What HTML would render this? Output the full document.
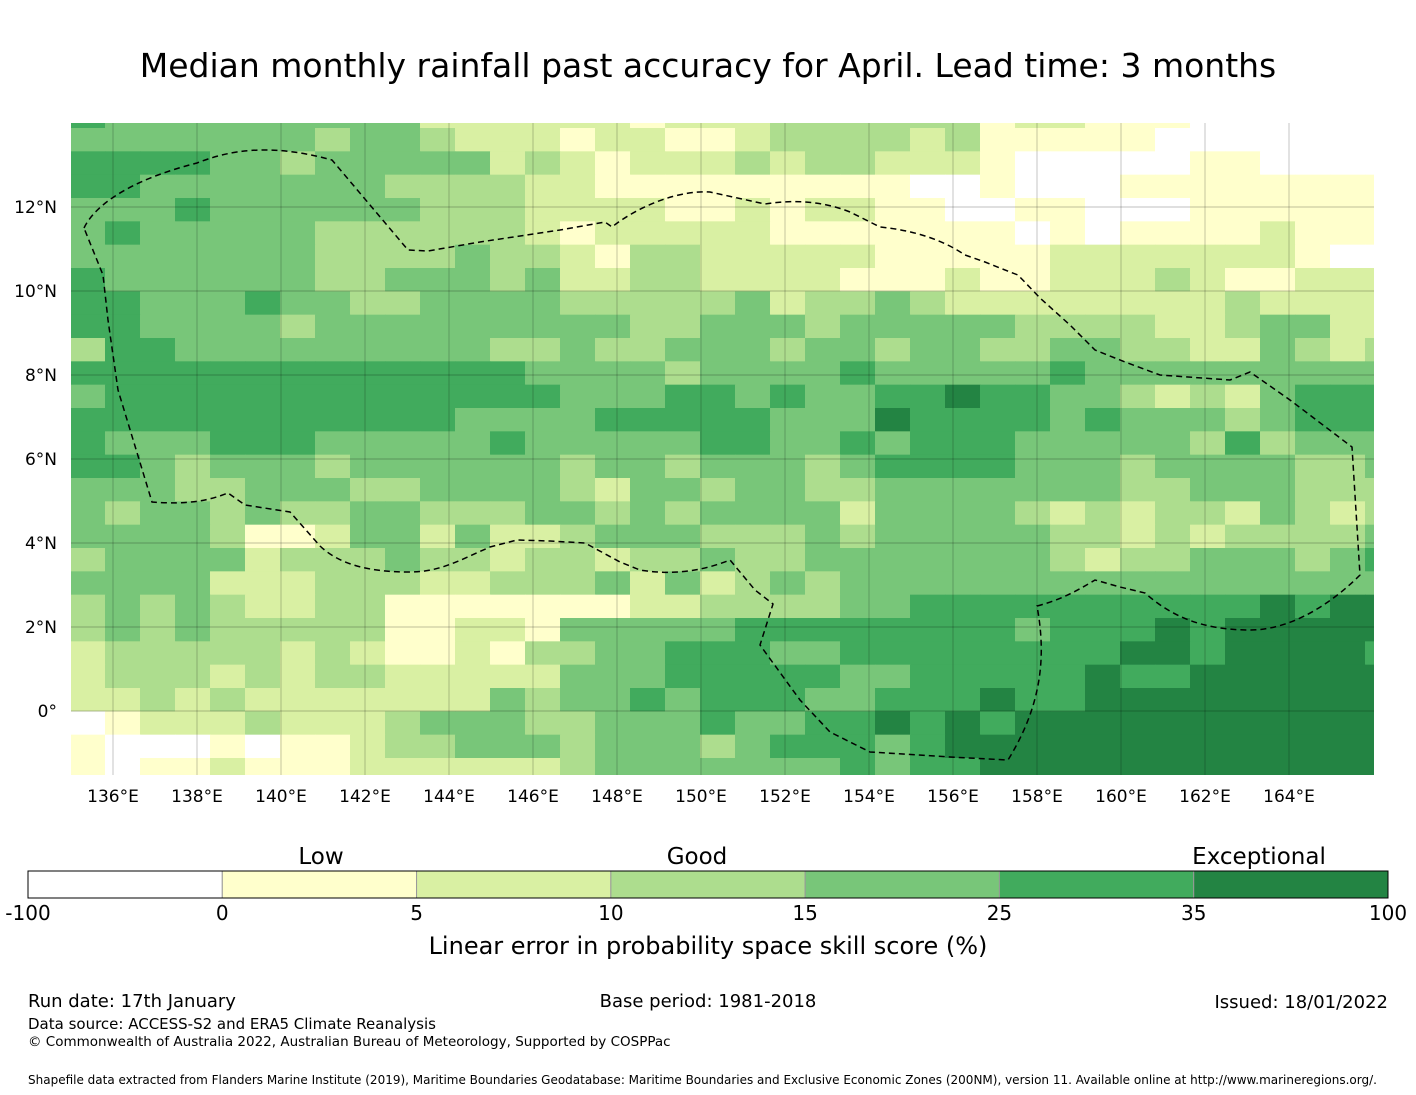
<!DOCTYPE html>
<html><head><meta charset="utf-8">
<style>
html,body{margin:0;padding:0;background:#fff;}
body{width:1416px;height:1095px;overflow:hidden;font-family:"Liberation Sans",sans-serif;}
svg{display:block;}
text{font-family:"DejaVu Sans","Liberation Sans",sans-serif;fill:#000;}
</style></head>
<body>
<svg id="chart" width="1416" height="1095" viewBox="0 0 1416 1095">
  <text x="708" y="77" text-anchor="middle" font-size="33">Median monthly rainfall past accuracy for April. Lead time: 3 months</text>
  <defs><clipPath id="mapclip"><rect x="71" y="123" width="1303" height="652"/></clipPath></defs>
  <g id="cells" clip-path="url(#mapclip)"></g>
  <g id="grid" clip-path="url(#mapclip)"></g>
  <path id="eez" clip-path="url(#mapclip)" fill="none" stroke="#000" stroke-width="1.5" stroke-dasharray="6,4"
    d="M84,228 C95,205 130,180 197,163 C230,150 270,143 332,160 L370,205 L408,250 L428,251 L480,242 L560,230 L605,222 L612,227 C640,205 680,190 710,192 L765,204 C790,200 820,200 850,212 L880,227 C910,230 940,238 965,255 L985,262 L1010,272 L1018,275 L1040,298 L1070,325 L1095,350 L1125,362 L1160,375 L1230,380 L1250,372 L1290,400 L1352,447 L1360,575 C1330,605 1290,630 1250,630 C1200,630 1170,615 1145,593 L1120,587 L1095,580 C1075,592 1060,600 1037,606 C1045,650 1045,700 1008,760 L950,757 L870,752 L830,732 L800,700 L760,645 L773,604 L755,590 L730,560 C700,572 670,575 640,570 L620,562 L585,543 L550,541 L517,540 L490,547 C460,560 440,572 410,572 C370,572 340,565 320,546 L290,512 L245,505 L228,493 C210,500 190,505 152,502 L118,390 L108,320 L103,275 Z"/>
  <g id="xticks"></g>
  <g id="yticks"></g>
  <g id="colorbar"></g>
  <text x="321" y="864" text-anchor="middle" font-size="23">Low</text>
  <text x="697" y="864" text-anchor="middle" font-size="23">Good</text>
  <text x="1259" y="864" text-anchor="middle" font-size="23">Exceptional</text>
  <text x="708" y="954" text-anchor="middle" font-size="24">Linear error in probability space skill score (%)</text>
  <text x="28" y="1007" font-size="18">Run date: 17th January</text>
  <text x="708" y="1007" text-anchor="middle" font-size="18">Base period: 1981-2018</text>
  <text x="1388" y="1008" text-anchor="end" font-size="18">Issued: 18/01/2022</text>
  <text x="28" y="1029" font-size="15">Data source: ACCESS-S2 and ERA5 Climate Reanalysis</text>
  <text x="28" y="1046" font-size="13.5">© Commonwealth of Australia 2022, Australian Bureau of Meteorology, Supported by COSPPac</text>
  <text x="28" y="1084" font-size="12">Shapefile data extracted from Flanders Marine Institute (2019), Maritime Boundaries Geodatabase: Maritime Boundaries and Exclusive Economic Zones (200NM), version 11. Available online at http://www.marineregions.org/.</text>
</svg>
<script>
// colour classes (index = skill class)
const levelColors = ["#ffffff","#ffffcc","#d9f0a3","#addd8e","#78c679","#41ab5d","#238443"];
const levelBounds = ["-100","0","5","10","15","25","35","100"];
// skill class per grid cell, rows north->south, columns west->east
const skillRows = [
"54444444442222221222333333122111000000",
"44444443443222122112333323111110000000",
"55554434444423212223233222100000110000",
"55444444433332211111111100100011111111",
"44454444443332222112122110011000111111",
"45444443333332122222111111101011112111",
"44444443333433213322222111112222222100",
"54444443344434223322221112112223211222",
"55444544334444333334233432222222232222",
"55444434444444443344434444433332234422",
"35544444444433433444344344334433224323",
"55555555555554444344445444445444444444",
"45555555555555444554544556554432324555",
"55555555555444455555444655554544434555",
"54445554444454444455445455544444353444",
"55434443444444344344434555544434444334",
"44433444334444324434433444444433444333",
"43443433443334434344442444432323324323",
"44443112442422344433343444443323233334",
"34444233343323323343344444443233444345",
"44442223332233342423434444444444444444",
"34343223311111112233334455555555556566",
"34343333311221444445555555545556566666",
"23333323211213344555445555555566566665",
"23332323322222444555554455555655666666",
"22323222222243445455544555655666666666",
"01222322234443344454455656566666666666",
"10001011233444344434555456666666666666",
"10112111222222344444445455666666666666"
];
const lonMin = 135, latMax = 14;
const colLon0 = 135 + 34/42, colW = 10/12;
const rowLat0 = 14 - 5/42, rowH = 5/9;
const gridLons = [136,138,140,142,144,146,148,150,152,154,156,158,160,162,164];
const gridLats = [12,10,8,6,4,2,0];
const xLabels = ["136°E","138°E","140°E","142°E","144°E","146°E","148°E","150°E","152°E","154°E","156°E","158°E","160°E","162°E","164°E"];
const yLabels = ["12°N","10°N","8°N","6°N","4°N","2°N","0°"];

const NS = "http://www.w3.org/2000/svg";
const px = lon => 71 + (lon - lonMin) * 42;
const py = lat => 123 + (latMax - lat) * 42;

const cells = document.getElementById("cells");
skillRows.forEach((row, r) => {
  const latTop = r === 0 ? latMax : rowLat0 - (r - 1) * rowH;
  const latBot = rowLat0 - r * rowH;
  for (let c = 0; c < row.length; c++) {
    const lonL = c === 0 ? lonMin : colLon0 + (c - 1) * colW;
    const lonR = colLon0 + c * colW;
    const el = document.createElementNS(NS, "rect");
    el.setAttribute("x", px(lonL));
    el.setAttribute("y", py(latTop));
    el.setAttribute("width", px(lonR) - px(lonL) + 0.5);
    el.setAttribute("height", py(latBot) - py(latTop) + 0.5);
    el.setAttribute("fill", levelColors[+row[c]]);
    
    
    cells.appendChild(el);
  }
});

const grid = document.getElementById("grid");
const xt = document.getElementById("xticks");
gridLons.forEach((lon, i) => {
  const l = document.createElementNS(NS, "line");
  l.setAttribute("x1", px(lon)); l.setAttribute("x2", px(lon));
  l.setAttribute("y1", 123); l.setAttribute("y2", 775);
  l.setAttribute("stroke", "rgba(0,0,0,0.25)"); l.setAttribute("stroke-width", "0.9");
  
  
  grid.appendChild(l);
  const t = document.createElementNS(NS, "text");
  t.setAttribute("x", px(lon)); t.setAttribute("y", 802);
  t.setAttribute("text-anchor", "middle"); t.setAttribute("font-size", "17");
  t.textContent = xLabels[i];
  
  
  xt.appendChild(t);
});
const yt = document.getElementById("yticks");
gridLats.forEach((lat, i) => {
  const l = document.createElementNS(NS, "line");
  l.setAttribute("x1", 71); l.setAttribute("x2", 1374);
  l.setAttribute("y1", py(lat)); l.setAttribute("y2", py(lat));
  l.setAttribute("stroke", "rgba(0,0,0,0.25)"); l.setAttribute("stroke-width", "0.9");
  
  
  grid.appendChild(l);
  const t = document.createElementNS(NS, "text");
  t.setAttribute("x", 57); t.setAttribute("y", py(lat) + 6);
  t.setAttribute("text-anchor", "end"); t.setAttribute("font-size", "17");
  t.textContent = yLabels[i];
  
  
  yt.appendChild(t);
});

const cb = document.getElementById("colorbar");
const cbX = 28, cbW = 1360, segW = cbW / levelColors.length;
levelColors.forEach((col, i) => {
  const r = document.createElementNS(NS, "rect");
  r.setAttribute("x", cbX + i * segW); r.setAttribute("y", 871);
  r.setAttribute("width", segW); r.setAttribute("height", 27);
  r.setAttribute("fill", col);
  r.setAttribute("stroke", "#999"); r.setAttribute("stroke-width", "1");
  
  
  cb.appendChild(r);
});
const frame = document.createElementNS(NS, "rect");
frame.setAttribute("x", cbX); frame.setAttribute("y", 871);
frame.setAttribute("width", cbW); frame.setAttribute("height", 27);
frame.setAttribute("fill", "none"); frame.setAttribute("stroke", "#000"); frame.setAttribute("stroke-width", "1");


cb.appendChild(frame);
levelBounds.forEach((b, i) => {
  const t = document.createElementNS(NS, "text");
  t.setAttribute("x", cbX + i * segW); t.setAttribute("y", 920);
  t.setAttribute("text-anchor", "middle"); t.setAttribute("font-size", "20");
  t.textContent = b;
  
  
  cb.appendChild(t);
});
</script>
</body></html>
